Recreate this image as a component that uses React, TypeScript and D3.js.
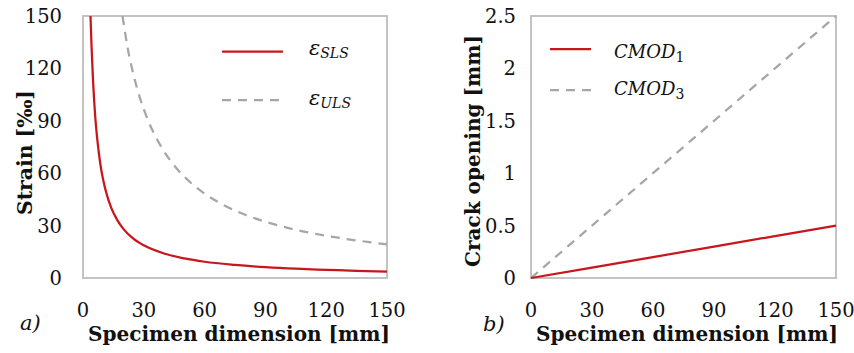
import React from "react";
import * as d3 from "d3";

const slsX = [3.7, 4.2, 5, 6, 7, 8, 9, 10, 12, 14, 17, 20, 25, 30, 40, 50, 60, 75, 90, 105, 120, 135, 150];
const slsY = [150, 133, 112, 93, 80, 70, 62, 56, 46.7, 40, 33, 28, 22.4, 18.7, 14, 11.2, 9.3, 7.5, 6.2, 5.3, 4.7, 4.1, 3.7];
const ulsX = [19.5, 22, 25, 28, 32, 36, 40, 45, 50, 60, 70, 80, 90, 105, 120, 135, 150];
const ulsY = [150, 132, 116, 103.5, 90.5, 80.5, 72.5, 64.4, 58, 48.3, 41.4, 36.2, 32.2, 27.6, 24.2, 21.5, 19.3];
const cmodX = [0, 30, 60, 90, 120, 150];
const cmod1Y = [0, 0.1, 0.2, 0.3, 0.4, 0.5];
const cmod3Y = [0, 0.5, 1.0, 1.5, 2.0, 2.5];
const xTicks = [0, 30, 60, 90, 120, 150];
const strainTicks = [0, 30, 60, 90, 120, 150];
const crackTicks = [0, 0.5, 1, 1.5, 2, 2.5];
const crackTickLabels = ["0", "0.5", "1", "1.5", "2", "2.5"];

const RED = "#c8161d";
const GRAY = "#a6a6a6";
const FRAME = "#c3c3c3";
const TICK_FONT = "'DejaVu Serif', serif";
const BOLD_FONT = "'DejaVu Serif', serif";

export default function App() {
  const xL = d3.scaleLinear().domain([0, 150]).range([83, 387]);
  const yL = d3.scaleLinear().domain([0, 150]).range([278, 16]);
  const xR = d3.scaleLinear().domain([0, 150]).range([531, 836]);
  const yR = d3.scaleLinear().domain([0, 2.5]).range([278, 16]);

  const lineL = d3
    .line<[number, number]>()
    .x((d) => xL(d[0]))
    .y((d) => yL(d[1]))
    .curve(d3.curveMonotoneX);
  const lineR = d3
    .line<[number, number]>()
    .x((d) => xR(d[0]))
    .y((d) => yR(d[1]));

  const sls = slsX.map((x, i) => [x, slsY[i]] as [number, number]);
  const uls = ulsX.map((x, i) => [x, ulsY[i]] as [number, number]);
  const c1 = cmodX.map((x, i) => [x, cmod1Y[i]] as [number, number]);
  const c3 = cmodX.map((x, i) => [x, cmod3Y[i]] as [number, number]);

  const tickStyle = { fontFamily: TICK_FONT, fontSize: 19.5, fill: "#111" } as const;
  const titleStyle = { fontFamily: BOLD_FONT, fontSize: 20, fontWeight: 700, fill: "#111" } as const;
  const mathStyle = { fontFamily: TICK_FONT, fontStyle: "italic", fill: "#111" } as const;

  return (
    <div style={{ position: "absolute", left: 0, top: 0 }}>
      <svg width={854} height={353} style={{ display: "block", background: "#fff" }}>
        <defs>
          <clipPath id="clipL">
            <rect x={xL(0)} y={yL(150)} width={xL(150) - xL(0)} height={yL(0) - yL(150)} />
          </clipPath>
        </defs>
        {/* ===== Left chart ===== */}
        <rect
          x={xL(0)}
          y={yL(150)}
          width={xL(150) - xL(0)}
          height={yL(0) - yL(150)}
          fill="none"
          stroke={FRAME}
          strokeWidth={2}
        />
        {strainTicks.map((t) => (
          <text key={"ly" + t} x={62} y={yL(t)} dy="0.36em" textAnchor="end" style={tickStyle}>
            {t}
          </text>
        ))}
        {xTicks.map((t) => (
          <text key={"lx" + t} x={xL(t)} y={317} textAnchor="middle" style={tickStyle}>
            {t}
          </text>
        ))}
        <g clipPath="url(#clipL)">
          <path d={lineL(uls) || ""} fill="none" stroke={GRAY} strokeWidth={2.25} strokeDasharray="9,7" />
          <path d={lineL(sls) || ""} fill="none" stroke={RED} strokeWidth={2.25} />
        </g>
        <text x={239} y={341} textAnchor="middle" textLength={302} lengthAdjust="spacingAndGlyphs" style={titleStyle}>
          Specimen dimension [mm]
        </text>
        <text
          transform={`translate(32,152.5) rotate(-90)`}
          textAnchor="middle"
          textLength={125}
          lengthAdjust="spacingAndGlyphs"
          style={titleStyle}
        >
          Strain [‰]
        </text>
        <text x={20} y={330} style={{ ...mathStyle, fontSize: 21 }}>
          a)
        </text>
        {/* legend left */}
        <line x1={222} x2={283} y1={51.5} y2={51.5} stroke={RED} strokeWidth={2.25} />
        <line x1={222} x2={283} y1={100} y2={100} stroke={GRAY} strokeWidth={2.25} strokeDasharray="9,7" />
        <text x={309} y={55} style={{ ...mathStyle, fontSize: 21 }}>
          ε<tspan fontSize={14} dy={3}>SLS</tspan>
        </text>
        <text x={309} y={105} style={{ ...mathStyle, fontSize: 21 }}>
          ε<tspan fontSize={14} dy={3}>ULS</tspan>
        </text>

        {/* ===== Right chart ===== */}
        <rect
          x={xR(0)}
          y={yR(2.5)}
          width={xR(150) - xR(0)}
          height={yR(0) - yR(2.5)}
          fill="none"
          stroke={FRAME}
          strokeWidth={2}
        />
        {crackTicks.map((t, i) => (
          <text key={"ry" + t} x={516} y={yR(t)} dy="0.36em" textAnchor="end" style={tickStyle}>
            {crackTickLabels[i]}
          </text>
        ))}
        {xTicks.map((t) => (
          <text key={"rx" + t} x={xR(t)} y={317} textAnchor="middle" style={tickStyle}>
            {t}
          </text>
        ))}
        <path d={lineR(c3) || ""} fill="none" stroke={GRAY} strokeWidth={2.25} strokeDasharray="9,7" />
        <path d={lineR(c1) || ""} fill="none" stroke={RED} strokeWidth={2.25} />
        <text x={687} y={341} textAnchor="middle" textLength={302} lengthAdjust="spacingAndGlyphs" style={titleStyle}>
          Specimen dimension [mm]
        </text>
        <text
          transform={`translate(480,151) rotate(-90)`}
          textAnchor="middle"
          textLength={232}
          lengthAdjust="spacingAndGlyphs"
          style={titleStyle}
        >
          Crack opening [mm]
        </text>
        <text x={483} y={331} style={{ ...mathStyle, fontSize: 21 }}>
          b)
        </text>
        {/* legend right */}
        <line x1={550} x2={591} y1={49} y2={49} stroke={RED} strokeWidth={2.25} />
        <line x1={550} x2={591} y1={90} y2={90} stroke={GRAY} strokeWidth={2.25} strokeDasharray="9,7" />
        <text x={614} y={58} style={{ ...mathStyle, fontSize: 18 }}>
          CMOD<tspan fontSize={14} fontStyle="normal" dy={4}>1</tspan>
        </text>
        <text x={614} y={95} style={{ ...mathStyle, fontSize: 18 }}>
          CMOD<tspan fontSize={14} fontStyle="normal" dy={4}>3</tspan>
        </text>
      </svg>
    </div>
  );
}
